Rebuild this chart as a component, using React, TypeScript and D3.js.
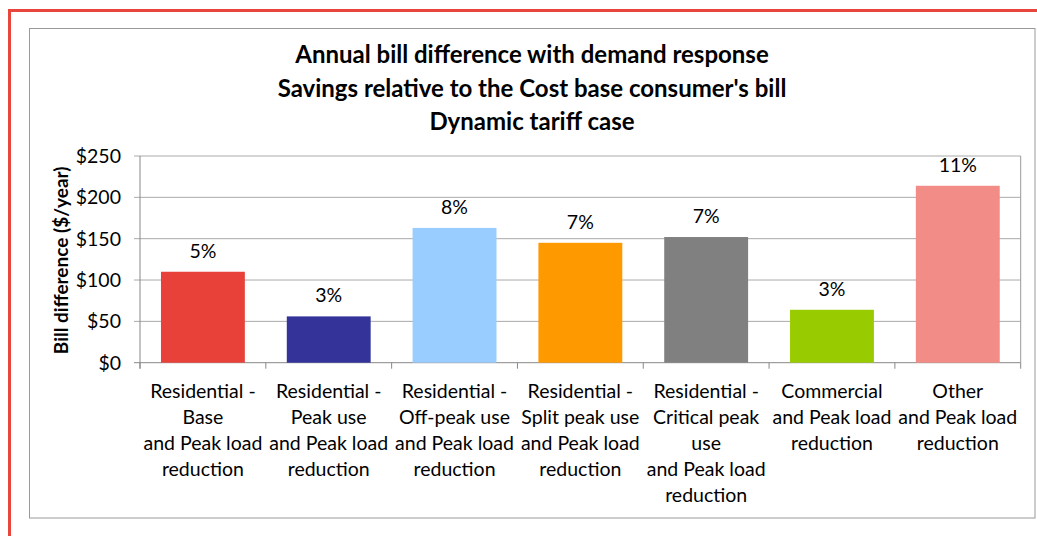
import React from "react";
import * as d3 from "d3";

// Category labels (one entry per bar, lines split by \n)
const categories: string[] = [
  "Residential -\nBase\nand Peak load\nreduction",
  "Residential -\nPeak use\nand Peak load\nreduction",
  "Residential -\nOff-peak use\nand Peak load\nreduction",
  "Residential -\nSplit peak use\nand Peak load\nreduction",
  "Residential -\nCritical peak\nuse\nand Peak load\nreduction",
  "Commercial\nand Peak load\nreduction",
  "Other\nand Peak load\nreduction",
];

// Annual bill difference, $/year
const billDifference: number[] = [110, 56, 163, 145, 152, 64, 214];

// Savings as a share of the base consumer's bill
const savingsPct: string[] = ["5%", "3%", "8%", "7%", "7%", "3%", "11%"];

const barColors: string[] = [
  "#E8413A",
  "#333399",
  "#99CCFF",
  "#FF9900",
  "#808080",
  "#99CC00",
  "#F28C87",
];

const yTicks: number[] = [0, 50, 100, 150, 200, 250];

const titleLines: string[] = [
  "Annual bill difference with demand response",
  "Savings relative to the Cost base consumer's bill",
  "Dynamic tariff case",
];

const W = 1037;
const H = 536;
const FONT = "Lato, 'Open Sans', sans-serif";

export default function App() {
  const plot = { left: 140, right: 1020.7, top: 156, bottom: 362.7 };

  const x = d3
    .scaleBand<string>()
    .domain(categories)
    .range([plot.left, plot.right])
    .paddingInner(1 / 3)
    .paddingOuter(1 / 6);

  const y = d3.scaleLinear().domain([0, 250]).range([plot.bottom, plot.top]);

  const step = x.step();
  const catEdges = d3.range(categories.length + 1).map((i) => plot.left + i * step);
  const cx = (c: string) => (x(c) ?? 0) + x.bandwidth() / 2;

  return (
    <svg
      width={W}
      height={H}
      viewBox={`0 0 ${W} ${H}`}
      style={{ position: "absolute", left: 0, top: 0, background: "#fff" }}
      fontFamily={FONT}
    >
      <rect x={0} y={0} width={W} height={H} fill="#fff" />

      {/* page frame */}
      <line x1={9.5} x2={W} y1={10.5} y2={10.5} stroke="#E8453C" strokeWidth={3} />
      <line x1={9.5} x2={9.5} y1={9} y2={H} stroke="#E8453C" strokeWidth={3} />

      {/* chart area border */}
      <rect x={29.5} y={28.5} width={1005.5} height={489.5} fill="#fff" stroke="#999" strokeWidth={1} />

      {/* title */}
      <g fontWeight="bold" fontSize={24} textAnchor="middle" fill="#000">
        {titleLines.map((t, i) => (
          <text key={i} x={532} y={63 + i * 33.5}>
            {t}
          </text>
        ))}
      </g>

      {/* gridlines */}
      {yTicks.map((v) => (
        <line
          key={v}
          x1={plot.left - 6}
          x2={plot.right}
          y1={y(v)}
          y2={y(v)}
          stroke={v === 0 ? "#888" : "#aaa"}
          strokeWidth={1}
        />
      ))}

      {/* plot area right border */}
      <line x1={plot.right} x2={plot.right} y1={plot.top} y2={plot.bottom} stroke="#999" />

      {/* bars */}
      {categories.map((c, i) => (
        <rect
          key={c}
          x={x(c)}
          y={y(billDifference[i])}
          width={x.bandwidth()}
          height={y(0) - y(billDifference[i])}
          fill={barColors[i]}
        />
      ))}

      {/* value axis line */}
      <line x1={plot.left} x2={plot.left} y1={plot.top} y2={plot.bottom + 6} stroke="#888" />

      {/* category tick marks */}
      {catEdges.map((xe, i) => (
        <line key={i} x1={xe} x2={xe} y1={plot.bottom} y2={plot.bottom + 6} stroke="#888" />
      ))}

      {/* y tick labels */}
      <g fontSize={19.5} textAnchor="end" fill="#000">
        {yTicks.map((v) => (
          <text key={v} x={121} y={y(v) + 7}>
            {d3.format("$,.0f")(v)}
          </text>
        ))}
      </g>

      {/* y axis title */}
      <text
        transform={`translate(68, ${(plot.top + plot.bottom) / 2 + 1}) rotate(-90)`}
        textAnchor="middle"
        fontWeight="bold"
        fontSize={19}
        fill="#000"
      >
        Bill difference ($/year)
      </text>

      {/* data labels */}
      <g fontSize={19.5} textAnchor="middle" fill="#000">
        {categories.map((c, i) => (
          <text key={c} x={cx(c)} y={y(billDifference[i]) - 14}>
            {savingsPct[i]}
          </text>
        ))}
      </g>

      {/* category labels */}
      <g fontSize={19.5} textAnchor="middle" fill="#000">
        {categories.map((c) => (
          <text key={c} x={cx(c)} y={398}>
            {c.split("\n").map((line, j) => (
              <tspan key={j} x={cx(c)} dy={j === 0 ? 0 : 26}>
                {line}
              </tspan>
            ))}
          </text>
        ))}
      </g>
    </svg>
  );
}
